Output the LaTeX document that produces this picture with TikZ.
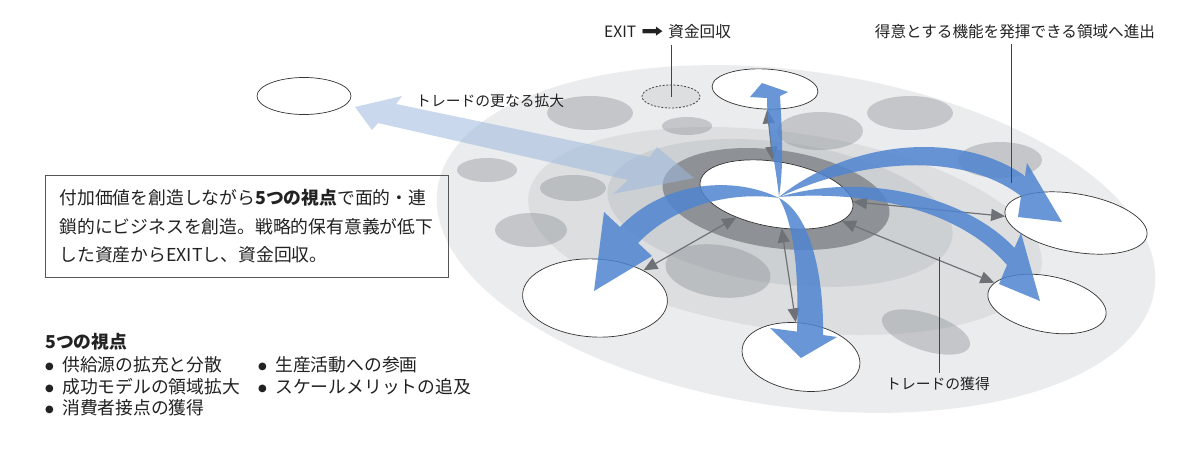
\documentclass[tikz,border=0pt]{standalone}
\usepackage{fontspec}
\usepackage{graphicx}
\setmainfont{Noto Sans CJK JP}
\newfontfamily\dejavu{DejaVu Sans}
\usetikzlibrary{shapes.geometric,arrows.meta,calc}
\definecolor{ringa}{HTML}{EBECED}
\definecolor{ringb}{HTML}{DCDEE0}
\definecolor{ringc}{HTML}{CDD0D3}
\definecolor{ringd}{HTML}{8E9297}
\definecolor{blobc}{HTML}{8A8E93}
\definecolor{bluec}{HTML}{4F84CF}
\definecolor{lightbluec}{HTML}{9DB8DD}
\definecolor{garrc}{HTML}{6E7276}
\definecolor{leadc}{HTML}{444444}
\definecolor{boxc}{HTML}{555555}
\definecolor{txtc}{HTML}{222222}
\newcommand\fsz[1]{\fontsize{#1}{#1}\selectfont}
\newcommand\bul{\makebox[17pt][l]{\raisebox{2.5pt}{\dejavu\fsz{10}●}}}
\tikzset{
  wnode/.style={ellipse, draw=black!80, line width=0.7pt, fill=white, inner sep=0pt},
  blob/.style={fill=blobc, fill opacity=0.4},
  garr/.style={draw=garrc, line width=1.2pt, {Triangle[length=14pt,width=12pt]}-{Triangle[length=14pt,width=12pt]}},
  bluearr/.style={fill=bluec, fill opacity=0.85},
  lightarr/.style={fill=lightbluec, fill opacity=0.55},
  lead/.style={draw=leadc, line width=0.9pt},
  lbl/.style={inner sep=0pt, text=txtc},
}
\begin{document}
\begin{tikzpicture}[x=1pt,y=-1pt]
\useasboundingbox (0,0) rectangle (1200,464);
\fill[white] (0,0) rectangle (1200,464);

% background discs
\fill[ringa, rotate around={-8:(796,239)}] (796,239) ellipse [x radius=362, y radius=168];
\fill[ringb, rotate around={-8:(785,231)}] (785,231) ellipse [x radius=259, y radius=98.5];
\fill[ringc, rotate around={-8:(780,213)}] (780,213) ellipse [x radius=174, y radius=70.6];

% gray blobs
\fill[blob] (590,113) ellipse [x radius=43, y radius=17];
\fill[blob] (687,126) ellipse [x radius=25, y radius=9];
\fill[blob] (487,170) ellipse [x radius=30, y radius=12];
\fill[blob] (573,188) ellipse [x radius=33, y radius=13];
\fill[blob] (531,230) ellipse [x radius=36, y radius=17];
\fill[blob] (820,131) ellipse [x radius=43, y radius=19];
\fill[blob] (910,113) ellipse [x radius=43, y radius=17];
\fill[blob] (1000,160) ellipse [x radius=42, y radius=18];
\fill[blob, rotate around={-18:(926,332)}] (926,332) ellipse [x radius=46, y radius=18.5];
\fill[blob, rotate around={-8:(718,271)}] (718,271) ellipse [x radius=53, y radius=26];

% dark ring
\fill[ringd, rotate around={-8:(776,199)}] (776,199) ellipse [x radius=114.4, y radius=48.9];

% light blue broad arrow
\fill[lightarr] (355,107) -- (402,96) -- (396,104) -- (650,157) -- (657,147) -- (694,178)
  -- (613,194) -- (628,180) -- (378,123) -- (372,130) -- cycle;

% white ellipses
\node[wnode, minimum width=154.8pt, minimum height=65.2pt, rotate=-9.6] (center) at (776.5,194.5) {};
\node[wnode, minimum width=106pt, minimum height=40pt, rotate=-3] (top) at (765,89) {};
\node[wnode, minimum width=94pt, minimum height=37pt] (far) at (304,96) {};
\node[wnode, minimum width=145pt, minimum height=78pt, rotate=-3] (ll) at (595,298) {};
\node[wnode, minimum width=118.8pt, minimum height=67.4pt, rotate=-8.6] (bot) at (801,357) {};
\node[wnode, minimum width=144pt, minimum height=58pt, rotate=-10] (ru) at (1076,223) {};
\node[wnode, minimum width=120pt, minimum height=56pt, rotate=-11] (rl) at (1047,304) {};
\node[ellipse, draw=leadc, line width=0.8pt, dash pattern=on 2pt off 1.6pt, fill=ringb, inner sep=0pt,
      minimum width=58pt, minimum height=23pt] (exitnode) at (671,96.5) {};

% gray double arrows
\draw[garr] (top) -- (center);
\draw[garr] (center) -- (ll);
\draw[garr] (center) -- (bot);
\draw[garr] (center) -- (ru);
\draw[garr] (center) -- (rl);

% blue tapered arrows
\fill[bluearr] (779,197) .. controls (776,165) and (767,130) .. (767,98) -- (750,97) -- (762,83)
  -- (788,92) -- (780,96) .. controls (782,130) and (784,165) .. (779,197) -- cycle;
\fill[bluearr] (779,198) .. controls (735,176) and (665,180) .. (620,227) -- (604,212) -- (594,291)
  -- (652,256) -- (638,243) .. controls (680,200) and (740,192) .. (779,198) -- cycle;
\fill[bluearr] (779,198) .. controls (795,225) and (799,280) .. (797,331.6) -- (770,328) -- (801,358)
  -- (837,337) -- (823,335) .. controls (824,280) and (812,215) .. (779,198) -- cycle;
\fill[bluearr] (779,197) .. controls (850,140) and (960,130) .. (1025,176) -- (1027,163) -- (1062,222)
  -- (1018,217) -- (1021,196) .. controls (960,150) and (860,160) .. (779,197) -- cycle;
\fill[bluearr] (779,197) .. controls (870,170) and (970,200) .. (1014.5,248) -- (1021,233) -- (1040,301)
  -- (999,284) -- (1007,265) .. controls (960,210) and (870,190) .. (779,197) -- cycle;

% labels
\node[lbl, anchor=west, font=\fsz{15.6}] (exitlbl) at (604,32)
  {EXIT\hspace{5pt}{\dejavu\scalebox{1.7}[1.2]{➡}}\hspace{5pt}資金回収};
\node[lbl, font=\fsz{15.6}] (toplbl) at (1015,32) {得意とする機能を発揮できる領域へ進出};
\node[lbl, anchor=west, font=\fsz{14.8}] (morelbl) at (416,101) {トレードの更なる拡大};
\node[lbl, font=\fsz{14.8}] (tradelbl) at (938,384) {トレードの獲得};

\coordinate (dpt) at (1011,183);
\coordinate (tpt) at (939,257);
\draw[lead] ($(exitlbl.south -| exitnode)+(0,6)$) -- (exitnode.center);
\draw[lead] ($(toplbl.south -| dpt)+(0,5)$) -- (dpt);
\draw[lead] (tpt) -- ($(tradelbl.north -| tpt)+(0,-4)$);

% description box
\node[draw=boxc, line width=0.9pt, anchor=north west, minimum width=403pt, minimum height=102pt,
      inner xsep=14pt, inner ysep=0pt, align=left, text width=375pt, text=txtc,
      font=\fontsize{17.8}{28.5}\selectfont] (desc) at (45,175)
  {付加価値を創造しながら\textbf{5つの視点}で面的・連\\鎖的にビジネスを創造。戦略的保有意義が低下\\した資産からEXITし、資金回収。};

% five viewpoints list
\node[lbl, anchor=west, font=\fsz{17.8}\bfseries] (h5) at (45,342) {5つの視点};
\node[lbl, anchor=west, font=\fsz{17.8}] (i1) at (45,365) {\bul 供給源の拡充と分散};
\node[lbl, anchor=west, font=\fsz{17.8}] (i2) at (45,387) {\bul 成功モデルの領域拡大};
\node[lbl, anchor=west, font=\fsz{17.8}] (i3) at (45,408) {\bul 消費者接点の獲得};
\node[lbl, anchor=west, font=\fsz{17.8}] (i4) at (258,365) {\bul 生産活動への参画};
\node[lbl, anchor=west, font=\fsz{17.8}] (i5) at (258,387) {\bul スケールメリットの追及};
\end{tikzpicture}
\end{document}
